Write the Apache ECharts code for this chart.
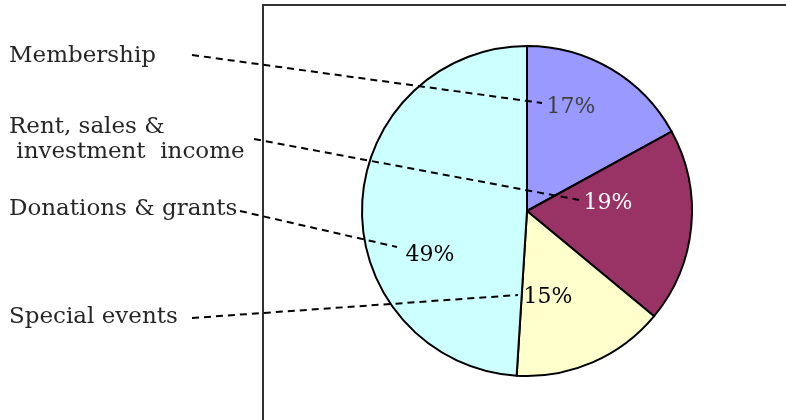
<!DOCTYPE html>
<html>
<head>
<meta charset="utf-8">
<script src="https://cdn.jsdelivr.net/npm/echarts@6/dist/echarts.min.js"></script>
<style>
  html, body { margin: 0; padding: 0; background: #fff; }
  #main { width: 786px; height: 420px; }
</style>
</head>
<body>
<div id="main"></div>
<script>
// chart data (clockwise from 12 o'clock)
const categories = ['Membership', 'Rent, sales &\n investment  income', 'Special events', 'Donations & grants'];
const values = [17, 19, 15, 49];

// styling per slice
const sliceColors = ['#9999ff', '#993366', '#ffffcc', '#ccffff'];
const pctColors = ['#404040', '#ffffff', '#000000', '#000000'];

// where the percent labels sit (manually dragged in the original)
const pctPos = [[571, 107], [608, 203], [548, 297], [430, 255]];
// name text on the left and the dashed leader lines
const namePos = [[9, 56], [9, 140], [9, 317], [9, 209]];
const leaderFrom = [[192, 55], [254, 139], [192, 318], [240, 211]];
const leaderTo = [[542, 103], [579, 200], [518, 295], [397, 247]];

const font = '"DejaVu Serif", "Liberation Serif", serif';

const graphic = [
  {
    type: 'rect',
    shape: { x: 263, y: 5, width: 700, height: 500 },
    style: { fill: 'none', stroke: '#333', lineWidth: 2 },
    z: 0
  }
];
categories.forEach((name, i) => {
  graphic.push({
    type: 'text',
    x: namePos[i][0],
    y: namePos[i][1],
    style: {
      text: name,
      font: '23px ' + font,
      fill: '#262626',
      verticalAlign: 'middle',
      lineHeight: 25
    },
    z: 10
  });
  graphic.push({
    type: 'polyline',
    shape: { points: [leaderFrom[i], leaderTo[i]] },
    style: { stroke: '#000', lineWidth: 2, lineDash: [7, 5], fill: 'none' },
    z: 10
  });
});

const option = {
  animation: false,
  backgroundColor: '#fff',
  graphic: graphic,
  series: [
    {
      type: 'pie',
      center: [527, 211],
      radius: 165,
      startAngle: 90,
      clockwise: true,
      silent: true,
      z: 2,
      itemStyle: { borderColor: '#000', borderWidth: 2 },
      label: {
        show: true,
        position: 'inside',
        formatter: '{d}%',
        fontFamily: font,
        fontSize: 22
      },
      labelLine: { show: false },
      labelLayout: function (p) {
        return {
          x: pctPos[p.dataIndex][0],
          y: pctPos[p.dataIndex][1],
          align: 'center',
          verticalAlign: 'middle'
        };
      },
      emphasis: { disabled: true },
      data: values.map((v, i) => ({
        name: categories[i],
        value: v,
        itemStyle: { color: sliceColors[i] },
        label: { color: pctColors[i] }
      }))
    }
  ]
};

const chart = echarts.init(document.getElementById('main'));
chart.setOption(option);
</script>
</body>
</html>
